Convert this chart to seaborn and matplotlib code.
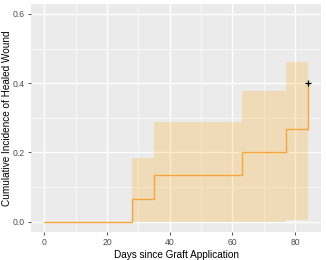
import numpy as np
import pandas as pd
import seaborn as sns
import matplotlib
matplotlib.use("Agg")
import matplotlib.pyplot as plt

# cumulative incidence estimates
days = [0, 28, 35, 63, 77, 84]
incidence = [0.0, 0.0667, 0.1333, 0.2, 0.2667, 0.4]
ci_lower = [0.0, 0.0, 0.0, 0.0, 0.004, 0.004]
ci_upper = [0.0, 0.185, 0.289, 0.378, 0.46, 0.46]
censor_days = [84]
censor_values = [0.4]

x_ticks = [0, 20, 40, 60, 80]
y_ticks = [0.0, 0.2, 0.4, 0.6]

df = pd.DataFrame({"days": days, "incidence": incidence})

sns.set_theme(style="darkgrid")
plt.rcParams['font.family'] = ['Liberation Sans', 'DejaVu Sans']

fig = plt.figure(figsize=(3.26, 2.6), dpi=100)
ax = fig.add_axes([31/326, (260-232)/260, 290/326, (232-3.5)/260])
ax.set_facecolor("#EBEBEB")

ax.fill_between(days, ci_lower, ci_upper, step="post", color="orange",
                alpha=0.22, linewidth=0, zorder=2)
sns.lineplot(data=df, x="days", y="incidence", drawstyle="steps-post",
             color="#F7A63A", linewidth=1.0, ax=ax, zorder=3)
ax.plot(censor_days, censor_values, marker="+", color="black",
        markersize=4, markeredgewidth=0.9, linestyle="none", zorder=4)

ax.set_xlim(-4.2, 88.2)
ax.set_ylim(-0.03, 0.63)
ax.set_xticks(x_ticks)
ax.set_yticks(y_ticks)
ax.set_xticklabels([str(t) for t in x_ticks])
ax.set_yticklabels([f"{t:.1f}" for t in y_ticks])
ax.set_xticks([10, 30, 50, 70], minor=True)
ax.set_yticks([0.1, 0.3, 0.5], minor=True)

ax.grid(which="major", color="white", linewidth=1.0)
ax.grid(which="minor", color="white", linewidth=0.5)
ax.set_axisbelow(True)
for s in ax.spines.values():
    s.set_visible(False)

ax.tick_params(axis="both", which="major", length=2.5, width=0.6,
               color="#333333", labelsize=6.2, labelcolor="#4D4D4D", pad=2,
               bottom=True, left=True)
ax.tick_params(axis="both", which="minor", length=0)

ax.set_xlabel("Days since Graft Application", fontsize=7.2, color="black", labelpad=2)
ax.set_ylabel("Cumulative Incidence of Healed Wound", fontsize=7.2, color="black")
ax.yaxis.set_label_coords(-0.065, 0.5)

fig.savefig("out.png", dpi=100)
